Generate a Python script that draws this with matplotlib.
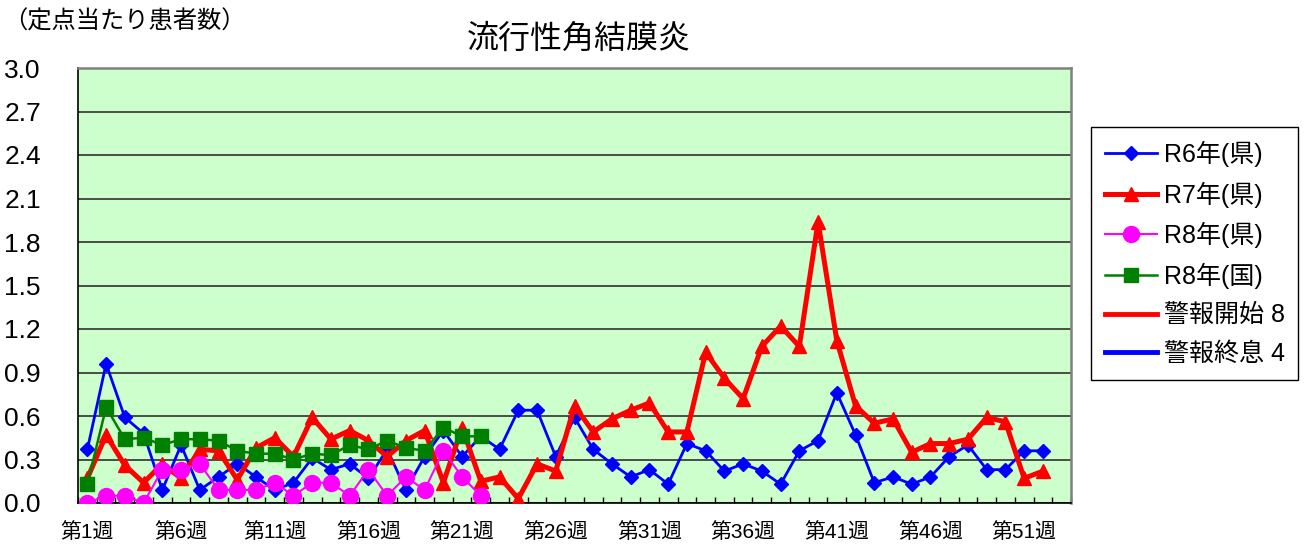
import numpy as np
import matplotlib
matplotlib.use('Agg')
import matplotlib.pyplot as plt

plt.rcParams['font.family'] = ['Liberation Sans', 'Noto Sans CJK JP', 'DejaVu Sans']

# weekly values (cases per sentinel)
r6_pref = [0.37, 0.96, 0.59, 0.48, 0.09, 0.40, 0.09, 0.18, 0.27, 0.18,
           0.09, 0.14, 0.31, 0.23, 0.27, 0.17, 0.37, 0.09, 0.32, 0.50,
           0.32, 0.46, 0.37, 0.64, 0.64, 0.32, 0.59, 0.37, 0.27, 0.18,
           0.23, 0.13, 0.41, 0.36, 0.22, 0.27, 0.22, 0.13, 0.36, 0.43,
           0.76, 0.47, 0.14, 0.18, 0.13, 0.18, 0.32, 0.40, 0.23, 0.23,
           0.36, 0.36]
r7_pref = [0.17, 0.47, 0.26, 0.14, 0.27, 0.17, 0.37, 0.36, 0.16, 0.38,
           0.45, 0.32, 0.59, 0.44, 0.50, 0.43, 0.32, 0.43, 0.50, 0.14,
           0.52, 0.15, 0.18, 0.03, 0.27, 0.22, 0.67, 0.49, 0.58, 0.64,
           0.69, 0.49, 0.49, 1.04, 0.86, 0.72, 1.08, 1.22, 1.08, 1.94,
           1.12, 0.67, 0.55, 0.58, 0.35, 0.41, 0.41, 0.44, 0.59, 0.56,
           0.17, 0.22]
r8_pref = [0.00, 0.05, 0.05, 0.00, 0.23, 0.23, 0.27, 0.09, 0.09, 0.09,
           0.14, 0.05, 0.14, 0.14, 0.05, 0.23, 0.05, 0.18, 0.09, 0.36,
           0.18, 0.05]
r8_nat = [0.13, 0.66, 0.44, 0.45, 0.40, 0.44, 0.44, 0.43, 0.36, 0.34,
          0.34, 0.30, 0.34, 0.33, 0.40, 0.37, 0.43, 0.38, 0.36, 0.52,
          0.46, 0.46]

alarm_start = 8
alarm_end = 4
n_weeks = 53
label_weeks = list(range(1, n_weeks + 1, 5))
week_labels = [f'第{w}週' for w in label_weeks]
y_ticks = np.round(np.arange(0, 3.01, 0.3), 1)

fig = plt.figure(figsize=(13.09, 5.44), dpi=100)
ax = fig.add_axes([78 / 1309, 1 - 503 / 544, (1071 - 78) / 1309, (503 - 68) / 544])
ax.set_facecolor('#CCFFCC')

weeks6 = np.arange(1, len(r6_pref) + 1)
weeks7 = np.arange(1, len(r7_pref) + 1)
weeks8 = np.arange(1, len(r8_pref) + 1)
weeks8n = np.arange(1, len(r8_nat) + 1)

ax.plot(weeks6, r6_pref, color='#0000FF', lw=2, marker='D', ms=7.5,
        label='R6年(県)', zorder=3)
ax.plot(weeks7, r7_pref, color='#FF0000', lw=3.6, marker='^', ms=10,
        label='R7年(県)', zorder=4)
ax.plot(weeks8, r8_pref, color='#FF00FF', lw=1.5, marker='o', ms=11.5,
        label='R8年(県)', zorder=5)
ax.plot(weeks8n, r8_nat, color='#008000', lw=1.8, marker='s', ms=10,
        label='R8年(国)', zorder=6)
# alarm levels sit above the visible range, only shown in legend
ax.axhline(alarm_start, color='#FF0000', lw=3.5, label=f'警報開始 {alarm_start}')
ax.axhline(alarm_end, color='#0000FF', lw=3.5, label=f'警報終息 {alarm_end}')

ax.set_xlim(0.5, n_weeks + 0.5)
ax.set_ylim(0, 3.0)

ax.set_yticks(y_ticks)
ax.set_yticklabels([f'{v:.1f}' for v in y_ticks], fontsize=19)
ax.tick_params(axis='y', length=0, pad=53)
for lab in ax.get_yticklabels():
    lab.set_horizontalalignment('left')
ax.yaxis.grid(True, color='#303030', lw=1.2)
ax.set_axisbelow(True)

ax.set_xticks(np.arange(0.5, n_weeks + 1, 1))
ax.set_xticklabels([])
ax.tick_params(axis='x', which='major', direction='in', length=4.5, width=1)
ax.set_xticks(label_weeks, minor=True)
ax.set_xticklabels(week_labels, minor=True, fontsize=15)
ax.tick_params(axis='x', which='minor', length=0, pad=14)

for s in ['left', 'bottom']:
    ax.spines[s].set_color('#000000')
    ax.spines[s].set_linewidth(1.2)
for s in ['top', 'right']:
    ax.spines[s].set_color('#808080')
    ax.spines[s].set_linewidth(1.8)

fig.text(0.5 * (78 + 1071) / 1309 + 0.003, 1 - 40 / 544, '流行性角結膜炎',
         ha='center', va='center', fontsize=23)
fig.text(3 / 1309, 1 - 22 / 544, '（定点当たり患者数）',
         ha='left', va='center', fontsize=17.5)

leg = ax.legend(loc='upper left', bbox_to_anchor=(1091 / 1309, 1 - 127 / 544),
                bbox_transform=fig.transFigure, borderaxespad=0,
                fontsize=18, frameon=True, fancybox=False, framealpha=1,
                edgecolor='#000000', handlelength=2.1, handletextpad=0.25,
                labelspacing=0.58, borderpad=0.55)
leg.get_frame().set_linewidth(1)

fig.savefig('out.png', dpi=100)
